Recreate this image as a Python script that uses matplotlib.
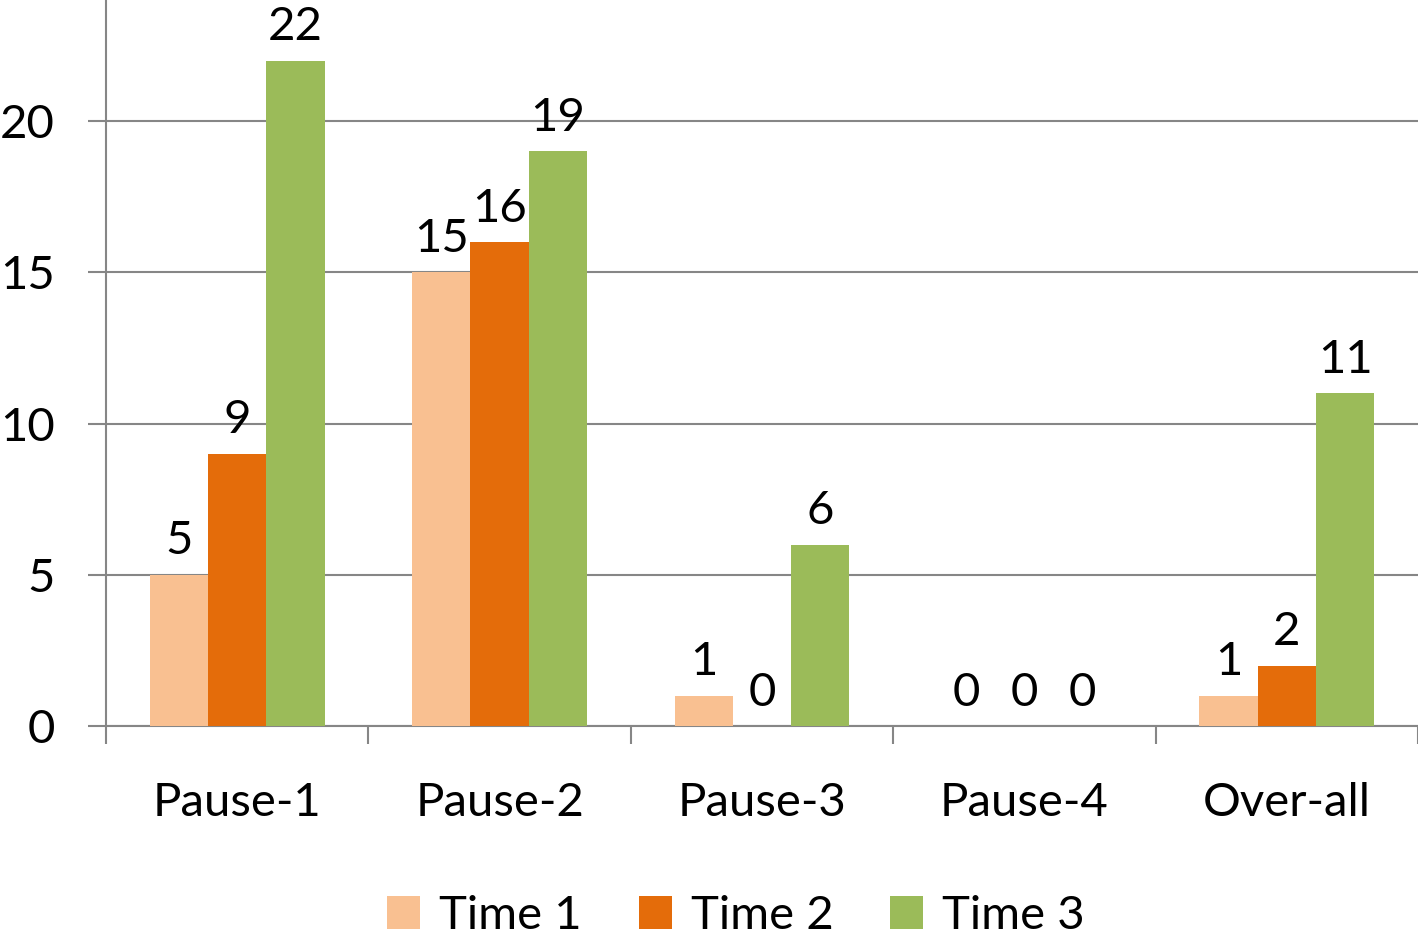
import matplotlib.pyplot as plt
import numpy as np

# dados
categorias = ['Pause-1', 'Pause-2', 'Pause-3', 'Pause-4', 'Over-all']
series = ['Time 1', 'Time 2', 'Time 3']
time1 = [5, 15, 1, 0, 1]
time2 = [9, 16, 0, 0, 2]
time3 = [22, 19, 6, 0, 11]
cores = ['#F9C091', '#E46C0A', '#9BBB59']

plt.rcParams['font.family'] = ['Lato', 'DejaVu Sans']
cinza = '#868686'

fig = plt.figure(figsize=(14.18, 9.38), dpi=100)
ax = fig.add_axes([106 / 1418, 1 - 726 / 938, 1 - 106 / 1418, 726 / 938])

x = np.arange(len(categorias))
largura = 0.222
for i, (vals, nome, cor) in enumerate(zip([time1, time2, time3], series, cores)):
    pos = x + (i - 1) * largura
    barras = ax.bar(pos, vals, largura, color=cor, label=nome, zorder=3)
    for p, v in zip(pos, vals):
        ax.annotate(str(v), (p, v), xytext=(0, 9), textcoords='offset points',
                    ha='center', va='bottom', fontsize=34, color='black')

ax.set_xlim(-0.5, len(categorias) - 0.5)
ax.set_ylim(0, 24)
ax.set_yticks([0, 5, 10, 15, 20])
ax.yaxis.grid(True, color=cinza, linewidth=1.5, zorder=0)
ax.set_axisbelow(True)

# ticks do eixo x nos limites das categorias
ax.set_xticks(np.arange(-0.5, len(categorias), 1))
ax.set_xticklabels([])
ax.set_xticks(x, minor=True)
ax.set_xticklabels(categorias, minor=True, fontsize=34)
ax.tick_params(axis='x', which='major', length=13, width=1.5, color=cinza, direction='out')
ax.tick_params(axis='x', which='minor', length=0, pad=40)
ax.tick_params(axis='y', length=13, width=1.5, color=cinza, labelsize=34, pad=24)

for lado in ['top', 'right']:
    ax.spines[lado].set_visible(False)
for lado in ['left', 'bottom']:
    ax.spines[lado].set_color(cinza)
    ax.spines[lado].set_linewidth(1.5)

fig.legend(loc='center', bbox_to_anchor=(736 / 1418, 1 - 916 / 938), ncol=3, frameon=False,
           fontsize=34, handlelength=0.7, handleheight=0.7, handletextpad=0.4, columnspacing=1.2)

plt.savefig('out.png', dpi=100)
